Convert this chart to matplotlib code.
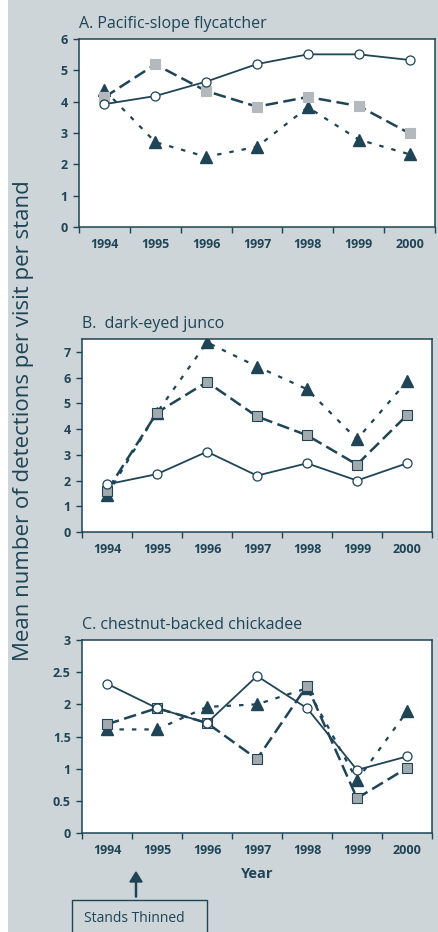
import numpy as np
import matplotlib.pyplot as plt
from matplotlib.patches import Rectangle, FancyArrow

plt.rcParams['font.family'] = ['Open Sans', 'DejaVu Sans']

years = ['1994', '1995', '1996', '1997', '1998', '1999', '2000']

# A. Pacific-slope flycatcher
a_circle = [3.92, 4.18, 4.64, 5.20, 5.51, 5.51, 5.33]
a_square = [4.14, 5.19, 4.34, 3.84, 4.15, 3.86, 2.99]
a_triangle = [4.37, 2.71, 2.24, 2.56, 3.82, 2.79, 2.32]

# B. dark-eyed junco
b_circle = [1.85, 2.25, 3.12, 2.19, 2.67, 2.00, 2.67]
b_square = [1.60, 4.64, 5.83, 4.49, 3.76, 2.62, 4.54]
b_triangle = [1.44, 4.64, 7.37, 6.43, 5.55, 3.60, 5.86]

# C. chestnut-backed chickadee
c_circle = [2.32, 1.94, 1.71, 2.44, 1.94, 0.98, 1.19]
c_square = [1.69, 1.94, 1.71, 1.15, 2.29, 0.54, 1.01]
c_triangle = [1.61, 1.61, 1.96, 2.00, 2.25, 0.82, 1.89]

titles = ['A. Pacific-slope flycatcher', 'B.  dark-eyed junco', 'C. chestnut-backed chickadee']
ymax = [6, 7.5, 3]
yticks = [np.arange(0, 7, 1), np.arange(0, 8, 1), np.arange(0, 3.01, 0.5)]
ytick_labels = [[str(int(v)) for v in yticks[0]],
                [str(int(v)) for v in yticks[1]],
                ['0', '0.5', '1', '1.5', '2', '2.5', '3']]

BG = '#cdd5d8'
DARK = '#1e4456'

fig = plt.figure(figsize=(4.38, 9.32), dpi=100, facecolor=BG)
fig.patches.append(Rectangle((0, 0), 8 / 438, 1, transform=fig.transFigure,
                             facecolor='white', edgecolor='none', zorder=0))

positions = [
    [79 / 438, 1 - 227 / 932, 356 / 438, 188 / 932],
    [82 / 438, 1 - 532 / 932, 350 / 438, 193 / 932],
    [82 / 438, 1 - 833 / 932, 350 / 438, 193 / 932],
]
data = [(a_circle, a_square, a_triangle),
        (b_circle, b_square, b_triangle),
        (c_circle, c_square, c_triangle)]

x = np.arange(len(years)) + 0.5
for i in range(3):
    ax = fig.add_axes(positions[i])
    circ, sq, tri = data[i]
    sq_face = '#b3b9bc' if i == 0 else '#a3aaae'
    sq_edge = '#b3b9bc' if i == 0 else DARK
    ax.plot(x, tri, color=DARK, lw=1.6, dashes=(2, 3.6), marker='^', ms=8,
            mfc=DARK, mec=DARK, zorder=3)
    ax.plot(x, sq, color=DARK, lw=1.8, dashes=(5, 2.2), marker='s', ms=7,
            mfc=sq_face, mec=sq_edge, mew=0.8, zorder=4)
    ax.plot(x, circ, color=DARK, lw=1.3, marker='o', ms=6.5,
            mfc='white', mec=DARK, mew=0.9, zorder=5)
    ax.set_xlim(0, 7)
    ax.set_ylim(0, ymax[i])
    ax.set_xticks(np.arange(0, 8))
    ax.set_xticklabels([])
    ax.set_xticks(x, minor=True)
    ax.set_xticklabels(years, minor=True, fontsize=9, fontweight='bold', color=DARK)
    ax.tick_params(axis='x', which='minor', length=0, pad=8)
    ax.tick_params(axis='x', which='major', length=4, width=1, color=DARK)
    ax.set_yticks(yticks[i])
    ax.set_yticklabels(ytick_labels[i], fontsize=9, fontweight='bold', color=DARK)
    ax.tick_params(axis='y', length=4, width=1, color=DARK, pad=4)
    for s in ax.spines.values():
        s.set_color(DARK)
        s.set_linewidth(1.1)
    ax.text(0, 1.035, titles[i], transform=ax.transAxes, fontsize=11.5,
            color=DARK, ha='left', va='bottom')
    if i == 2:
        ax.set_xlabel('Year', fontsize=10.5, fontweight='bold', color=DARK, labelpad=7)

fig.text(24 / 438, 1 - 421 / 932, 'Mean number of detections per visit per stand',
         rotation=90, fontsize=16, color=DARK, ha='center', va='center')

# Stands thinned annotation
fig.patches.append(Rectangle((72 / 438, -0.01), 135 / 438, 0.01 + 32 / 932,
                             transform=fig.transFigure, facecolor='none',
                             edgecolor=DARK, lw=1.0))
fig.text(84 / 438, 1 - 919 / 932, 'Stands Thinned', fontsize=10, color=DARK,
         ha='left', va='center')
fig.patches.append(FancyArrow(
    136 / 438, 1 - 897 / 932, 0, 25 / 932, width=0.0025, head_width=0.028,
    head_length=10 / 932, length_includes_head=True, transform=fig.transFigure,
    color=DARK))

fig.savefig('out.png', dpi=100, facecolor=BG)
